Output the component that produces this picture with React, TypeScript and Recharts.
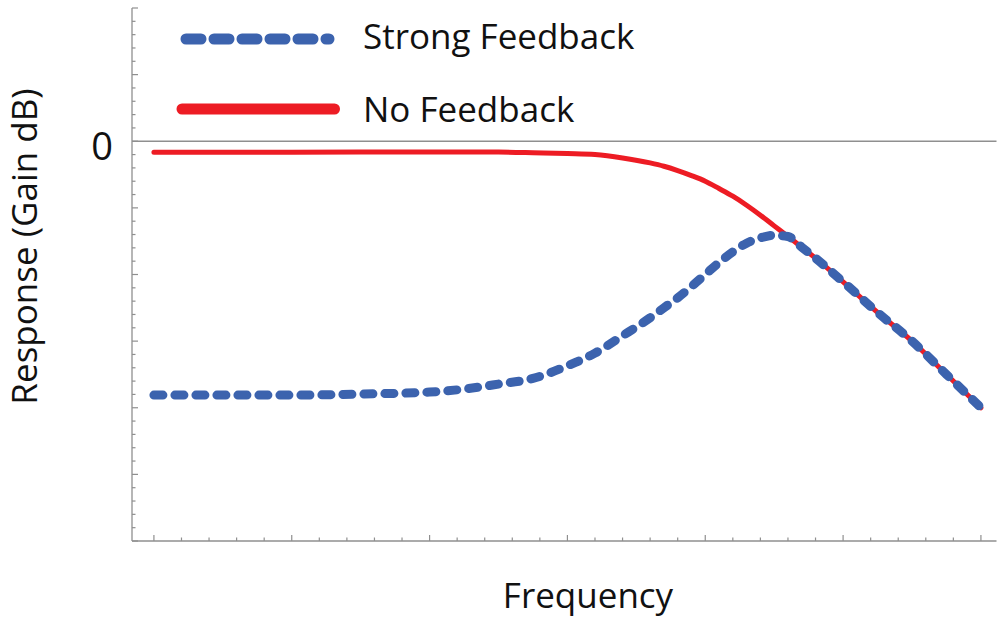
import React from 'react';
import { LineChart, Line, XAxis, YAxis, ReferenceLine } from 'recharts';

// Frequency positions (log-frequency units, major ticks at integers)
const frequency = [0, 0.5, 1, 1.5, 2, 2.25, 2.5, 2.75, 3.0, 3.2, 3.4, 3.6, 3.7, 3.8, 3.9, 4.0, 4.1, 4.2, 4.3, 4.4, 4.5, 4.6, 4.7, 4.8, 5.0, 5.25, 5.5, 5.75, 6.0];
// Gain (in units of the chart's major grid)
const noFeedback = [-0.165, -0.165, -0.165, -0.163, -0.16, -0.16, -0.162, -0.172, -0.185, -0.2, -0.25, -0.325, -0.375, -0.44, -0.515, -0.6, -0.71, -0.825, -0.96, -1.11, -1.27, -1.43, -1.59, -1.755, -2.11, -2.57, -3.0, -3.5, -4.0];
const strongFeedback = [-3.81, -3.81, -3.81, -3.795, -3.765, -3.72, -3.645, -3.56, -3.37, -3.18, -2.92, -2.65, -2.5, -2.35, -2.18, -2.0, -1.82, -1.66, -1.53, -1.45, -1.41, -1.43, -1.59, -1.755, -2.11, -2.57, -3.0, -3.5, -4.0];

const xTicks = Array.from({ length: 31 }, (_, i) => Math.round(i * 2) / 10);
const yTicks = Array.from({ length: 41 }, (_, i) => Math.round((-6 + i * 0.2) * 10) / 10);
const yLabelTicks = [0];

const X_DOMAIN: [number, number] = [-0.159, 6.113];
const Y_DOMAIN: [number, number] = [-6, 2];

const data = frequency.map((f, i) => ({ f, no: noFeedback[i], strong: strongFeedback[i] }));

const FONT = '"Open Sans", sans-serif';
const AXIS = '#8f8f8f';
const RED = '#ed1c24';
const BLUE = '#3c63ae';

const isMajor = (v: number) => Math.abs(v - Math.round(v)) < 1e-6;

const makeTick = (side: 'bottom' | 'top' | 'left' | 'right') => (props: any) => {
  const { x, y, payload } = props;
  const v = payload.value;
  const len = isMajor(v) ? 6 : 3.5;
  let line;
  if (side === 'bottom') line = <line x1={x} x2={x} y1={y} y2={y - len} stroke={AXIS} strokeWidth={1.2} />;
  else if (side === 'top') line = <line x1={x} x2={x} y1={y} y2={y + len} stroke={AXIS} strokeWidth={1.2} />;
  else if (side === 'left') line = <line x1={x} x2={x + len} y1={y} y2={y} stroke={AXIS} strokeWidth={1.2} />;
  else line = <line x1={x} x2={x - len} y1={y} y2={y} stroke={AXIS} strokeWidth={1.2} />;
  return (
    <g>
      {line}
      {side === 'left' && yLabelTicks.includes(v) ? (
        <text x={x - 19} y={y + 18.3} textAnchor="end" fontSize={38} fontFamily={FONT} fill="#111">
          {String(v)}
        </text>
      ) : null}
    </g>
  );
};

export default function App() {
  return (
    <div style={{ position: 'absolute', left: 0, top: 0, width: 997, height: 622, background: '#fff' }}>
      <LineChart width={997} height={622} data={data} margin={{ top: 8, right: 0.5, left: 0, bottom: 0 }}>
        <XAxis
          xAxisId={0}
          dataKey="f"
          type="number"
          domain={X_DOMAIN}
          allowDataOverflow
          ticks={xTicks}
          interval={0}
          height={81}
          orientation="bottom"
          stroke={AXIS}
          axisLine={{ stroke: AXIS, strokeWidth: 1.3 }}
          tickLine={false}
          tickSize={0}
          tickMargin={0}
          tick={makeTick('bottom')}
        />
        <XAxis
          xAxisId="top"
          dataKey="f"
          type="number"
          domain={X_DOMAIN}
          allowDataOverflow
          ticks={xTicks}
          interval={0}
          height={0}
          orientation="top"
          axisLine={{ stroke: AXIS, strokeWidth: 1.3 }}
          tickLine={false}
          tickSize={0}
          tickMargin={0}
          tick={makeTick('top')}
        />
        <YAxis
          yAxisId={0}
          type="number"
          domain={Y_DOMAIN}
          allowDataOverflow
          ticks={yTicks}
          interval={0}
          width={132}
          orientation="left"
          axisLine={{ stroke: AXIS, strokeWidth: 1.3 }}
          tickLine={false}
          tickSize={0}
          tickMargin={0}
          tick={makeTick('left')}
        />
        <YAxis
          yAxisId="right"
          type="number"
          domain={Y_DOMAIN}
          allowDataOverflow
          ticks={yTicks}
          interval={0}
          width={0}
          orientation="right"
          axisLine={{ stroke: AXIS, strokeWidth: 1.3 }}
          tickLine={false}
          tickSize={0}
          tickMargin={0}
          tick={makeTick('right')}
        />
        <ReferenceLine y={0} xAxisId={0} yAxisId={0} stroke={AXIS} strokeWidth={1.3} />
        <Line
          xAxisId={0}
          yAxisId={0}
          type="monotone"
          dataKey="no"
          name="No Feedback"
          stroke={RED}
          strokeWidth={5}
          strokeLinecap="round"
          dot={false}
          activeDot={false}
          isAnimationActive={false}
        />
        <Line
          xAxisId={0}
          yAxisId={0}
          type="monotone"
          dataKey="strong"
          name="Strong Feedback"
          stroke={BLUE}
          strokeWidth={9}
          strokeDasharray="9 12"
          strokeLinecap="round"
          dot={false}
          activeDot={false}
          isAnimationActive={false}
        />
      </LineChart>
      <svg width={997} height={622} style={{ position: 'absolute', left: 0, top: 0, pointerEvents: 'none' }}>
        <line x1={186} x2={329} y1={39} y2={39} stroke={BLUE} strokeWidth={11} strokeDasharray="15 13" strokeLinecap="round" />
        <text x={363} y={49} fontSize={35} fontFamily={FONT} fill="#111">Strong Feedback</text>
        <line x1={182} x2={334.5} y1={109} y2={109} stroke={RED} strokeWidth={11} strokeLinecap="round" />
        <text x={363} y={121.5} fontSize={35} fontFamily={FONT} fill="#111">No Feedback</text>
        <text x={588} y={608} fontSize={35} fontFamily={FONT} fill="#111" textAnchor="middle">Frequency</text>
        <text x={37} y={246.5} fontSize={35} fontFamily={FONT} fill="#111" textAnchor="middle" transform="rotate(-90 37 246.5)">
          Response (Gain dB)
        </text>
      </svg>
    </div>
  );
}
